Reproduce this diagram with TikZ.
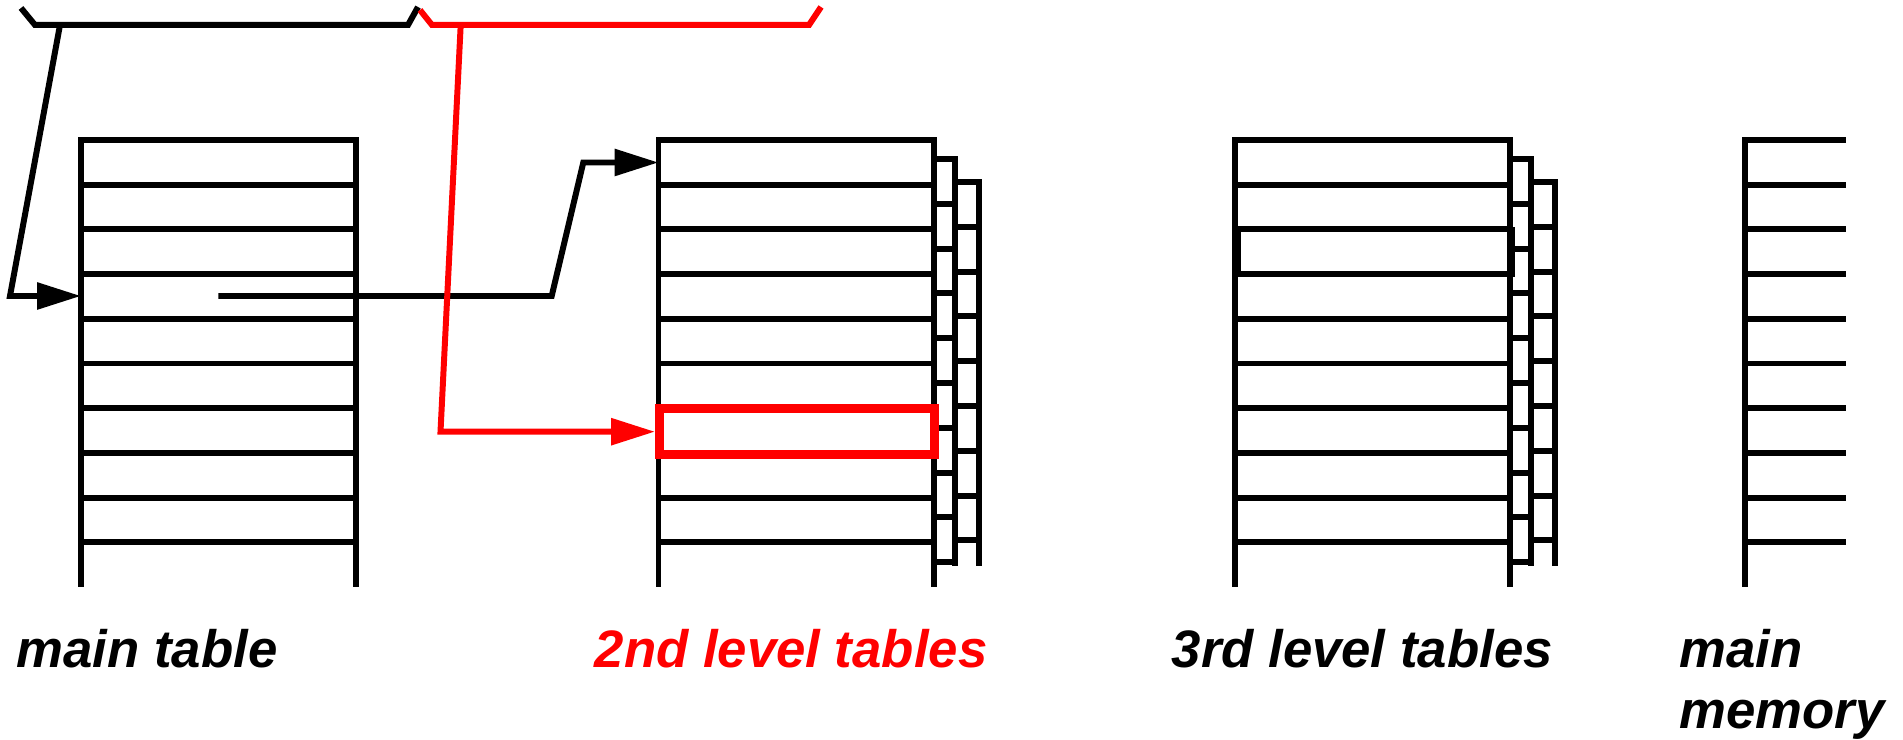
\documentclass[tikz,border=0pt]{standalone}
\usepackage{fontspec}
\setmainfont{Liberation Sans}
\usetikzlibrary{arrows.meta}

\tikzset{
  tbl/.style={line width=1.7pt},
  hitbox/.style={red, line width=2.55pt},
  lbl/.style={inner sep=0pt, anchor=base west, font=\fontsize{15}{18}\selectfont\bfseries\itshape},
}

\begin{document}
\begin{tikzpicture}[y=-1cm, >={Triangle[length=4.4mm,width=2.6mm]}]
    \useasboundingbox (0,0) rectangle (19.03,7.40);
    \foreach \x in {0.81,6.585,12.345} {
      \draw[tbl] (\x,5.87) -- (\x,1.40) -- (\x+2.75,1.40) -- (\x+2.75,5.87);
      \foreach \i in {1,...,9}
        \draw[tbl] (\x,1.40+0.447*\i) -- ++(2.75,0);
    }
    \foreach \x in {9.335,15.095} {
      \draw[tbl] (\x,1.59) -- (\x+0.21,1.59) -- (\x+0.21,5.66);
      \foreach \i in {1,...,9}
        \draw[tbl] (\x,1.59+0.448*\i) -- ++(0.21,0);
      \draw[tbl] (\x+0.21,1.82) -- (\x+0.45,1.82) -- (\x+0.45,5.66);
      \foreach \i in {1,...,8}
        \draw[tbl] (\x+0.21,1.82+0.448*\i) -- ++(0.24,0);
    }
    \draw[tbl] (12.38,2.295) rectangle (15.12,2.745);
    \draw[tbl] (17.45,5.87) -- (17.45,1.40) -- (18.46,1.40);
    \foreach \i in {1,...,9}
      \draw[tbl] (17.45,1.40+0.447*\i) -- ++(1.01,0);
    \draw[hitbox] (6.595,4.087) rectangle (9.345,4.542);

    \draw[tbl] (0.21,0.08) -- (0.35,0.25) -- (4.08,0.25) -- (4.18,0.07);
    \draw[tbl, red] (4.20,0.10) -- (4.32,0.25) -- (8.09,0.25) -- (8.21,0.07);
    \coordinate (addr-a) at (0.60,0.25);
    \coordinate (addr-b) at (4.607,0.25);
    \coordinate (main-r4) at (0.81,2.96);
    \coordinate (main-r4c) at (2.183,2.96);
    \coordinate (sec-r1) at (6.585,1.625);
    \coordinate (sec-r7) at (6.55,4.317);
    \draw[tbl, ->] (addr-a) -- (0.10,2.96) -- (main-r4);
    \draw[tbl, ->] (main-r4c) -- (5.517,2.96) -- (5.833,1.625) -- (sec-r1);
    \draw[tbl, red, ->] (addr-b) -- (4.405,4.317) -- (sec-r7);

    \node[lbl] (main-lbl) at (0.16,6.677) {main table};
    \node[lbl, red] (sec-lbl) at (5.94,6.677) {2nd level tables};
    \node[lbl] (thd-lbl) at (11.71,6.677) {3rd level tables};
    \node[lbl] (mem-lbl) at (16.79,6.677) {main};
    \node[lbl] (mem-lbl2) at (16.79,7.283) {memory};
  \end{tikzpicture}
\end{document}
